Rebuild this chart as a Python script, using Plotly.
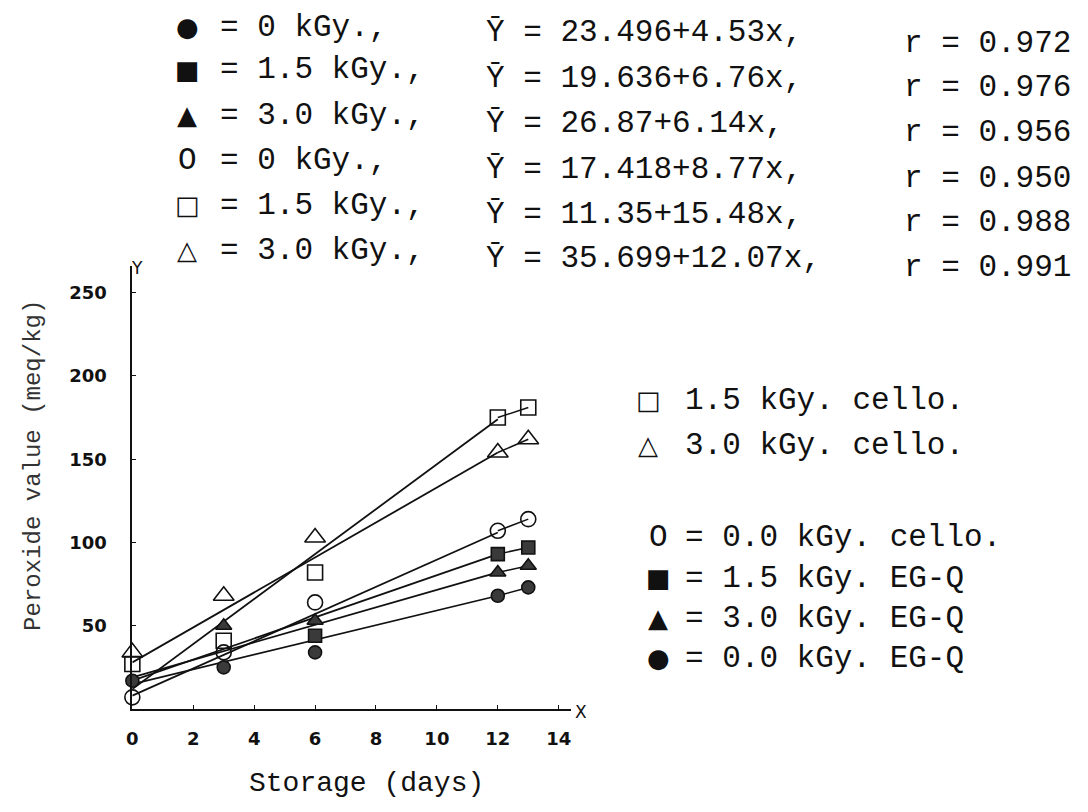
import plotly.graph_objects as go

W, H = 1088, 812

# ---- data ----
days = [0, 3, 6, 12, 13]
egq_0 = [17, 25, 34, 68, 73]          # filled circle, 0 kGy EG-Q
egq_15 = [None, None, 44, 93, 97]     # filled square, 1.5 kGy EG-Q
egq_30 = [None, 50, 53, 82, 86]       # filled triangle, 3.0 kGy EG-Q
cello_0 = [7, 34, 64, 107, 114]       # open circle, 0 kGy cello
cello_15 = [27, 41, 82, 175, 181]     # open square, 1.5 kGy cello
cello_30 = [34, 68, 103, 154, 162]    # open triangle, 3.0 kGy cello

line_days = [0, 12]
line_egq_0 = [15, 68]
line_egq_15 = [17, 93]
line_egq_30 = [19, 82]
line_cello_0 = [8, 106]
line_cello_15 = [12, 174]
line_cello_30 = [28, 154]

x_ticks = [0, 2, 4, 6, 8, 10, 12, 14]
y_ticks = [50, 100, 150, 200, 250]

top_symbols = ["●", "■", "▲", "O", "□", "△"]
top_doses = ["= 0 kGy.,", "= 1.5 kGy.,", "= 3.0 kGy.,", "= 0 kGy.,", "= 1.5 kGy.,", "= 3.0 kGy.,"]
top_eqs = ["Ȳ = 23.496+4.53x,", "Ȳ = 19.636+6.76x,", "Ȳ = 26.87+6.14x,",
           "Ȳ = 17.418+8.77x,", "Ȳ = 11.35+15.48x,", "Ȳ = 35.699+12.07x,"]
top_r = ["r = 0.972", "r = 0.976", "r = 0.956", "r = 0.950", "r = 0.988", "r = 0.991"]

legend_upper_sym = ["□", "△"]
legend_upper = ["1.5 kGy. cello.", "3.0 kGy. cello."]
legend_lower_sym = ["O", "■", "▲", "●"]
legend_lower = ["= 0.0 kGy. cello.", "= 1.5 kGy. EG-Q", "= 3.0 kGy. EG-Q", "= 0.0 kGy. EG-Q"]

# ---- styling / layout ----
MONO = "Liberation Mono, Courier New, monospace"
SYM = "DejaVu Sans"
INK = "#111111"
FILL = "#3a3a3a"
OFF = 8  # page body margin of the html page

def px(x):
    return (x - OFF) / W

def py(y):
    return 1 - (y - OFF) / H

fig = go.Figure()

series = [
    (line_egq_0, egq_0, "circle", FILL, 13),
    (line_egq_15, egq_15, "square", FILL, 13),
    (line_egq_30, egq_30, "triangle-up", FILL, 14),
    (line_cello_0, cello_0, "circle-open", INK, 15),
    (line_cello_15, cello_15, "square-open", INK, 15),
    (line_cello_30, cello_30, "triangle-up-open", INK, 18),
]

for line_vals, vals, sym, col, size in series:
    fig.add_trace(go.Scatter(x=line_days, y=line_vals, mode="lines",
                             line=dict(color=INK, width=1.8), hoverinfo="skip",
                             showlegend=False))
    fig.add_trace(go.Scatter(x=days[3:5], y=vals[3:5], mode="lines",
                             line=dict(color=INK, width=1.5), hoverinfo="skip",
                             showlegend=False))

for line_vals, vals, sym, col, size in series:
    fig.add_trace(go.Scatter(x=days, y=vals, mode="markers",
                             marker=dict(symbol=sym, size=size, color=col if "open" not in sym else INK,
                                         line=dict(color=INK, width=1.6)),
                             cliponaxis=False, showlegend=False))

tickfont = dict(family="DejaVu Sans", size=18, color=INK, weight="bold")
fig.update_layout(
    width=W, height=H,
    margin=dict(l=0, r=0, t=0, b=0),
    paper_bgcolor="white", plot_bgcolor="white",
    xaxis=dict(domain=[px(127), px(568)], range=[0, 14.4], tickvals=x_ticks,
               showgrid=False, zeroline=False, showline=True, linecolor=INK, linewidth=2,
               ticks="inside", ticklen=4, tickcolor=INK, tickfont=tickfont,
               ticklabelstandoff=12),
    yaxis=dict(domain=[py(709), py(266)], range=[0, 266], tickvals=y_ticks,
               showgrid=False, zeroline=False, showline=True, linecolor=INK, linewidth=2,
               ticks="inside", ticklen=4, tickcolor=INK, tickfont=tickfont,
               ticklabelstandoff=20),
    showlegend=False,
)

ann = []
def add(text, x, y, size, xanchor="left", font=MONO, textangle=0, color=INK):
    ann.append(dict(text=text, x=px(x), y=py(y), xref="paper", yref="paper",
                    xanchor=xanchor, yanchor="middle", showarrow=False,
                    textangle=textangle, borderpad=0,
                    font=dict(family=font, size=size, color=color)))

def add_sym(sym, x, y):
    if sym == "O":
        add(sym, x, y, 31, xanchor="center")
    else:
        add(sym, x, y, 26, xanchor="center", font=SYM)

dose_y = [27, 70, 115, 160, 205, 250]
eq_y = [33, 79, 123, 169, 214, 259]
r_y = [43, 88, 133, 178, 223, 268]
for i in range(6):
    add_sym(top_symbols[i], 182, dose_y[i])
    add(top_doses[i], 214, dose_y[i], 31)
    add(top_eqs[i], 482, eq_y[i], 31)
    add(top_r[i], 902, r_y[i], 31)

for s, t, y in zip(legend_upper_sym, legend_upper, [400, 445]):
    add_sym(s, 646, y)
    add(t, 682, y, 31)
for s, t, y in zip(legend_lower_sym, legend_lower, [537, 578, 618, 658]):
    add_sym(s, 656, y)
    add(t, 682, y, 31)

add("Y", 132, 268, 17, xanchor="center", font="DejaVu Sans")
add("X", 578, 712, 17, xanchor="center", font="DejaVu Sans")
add("Storage (days)", 362, 783, 28, xanchor="center")
add("Peroxide value (meq/kg)", 27, 465, 24, xanchor="center", textangle=-90, color="#333333")

fig.update_layout(annotations=ann)
fig.write_html("out.html")
